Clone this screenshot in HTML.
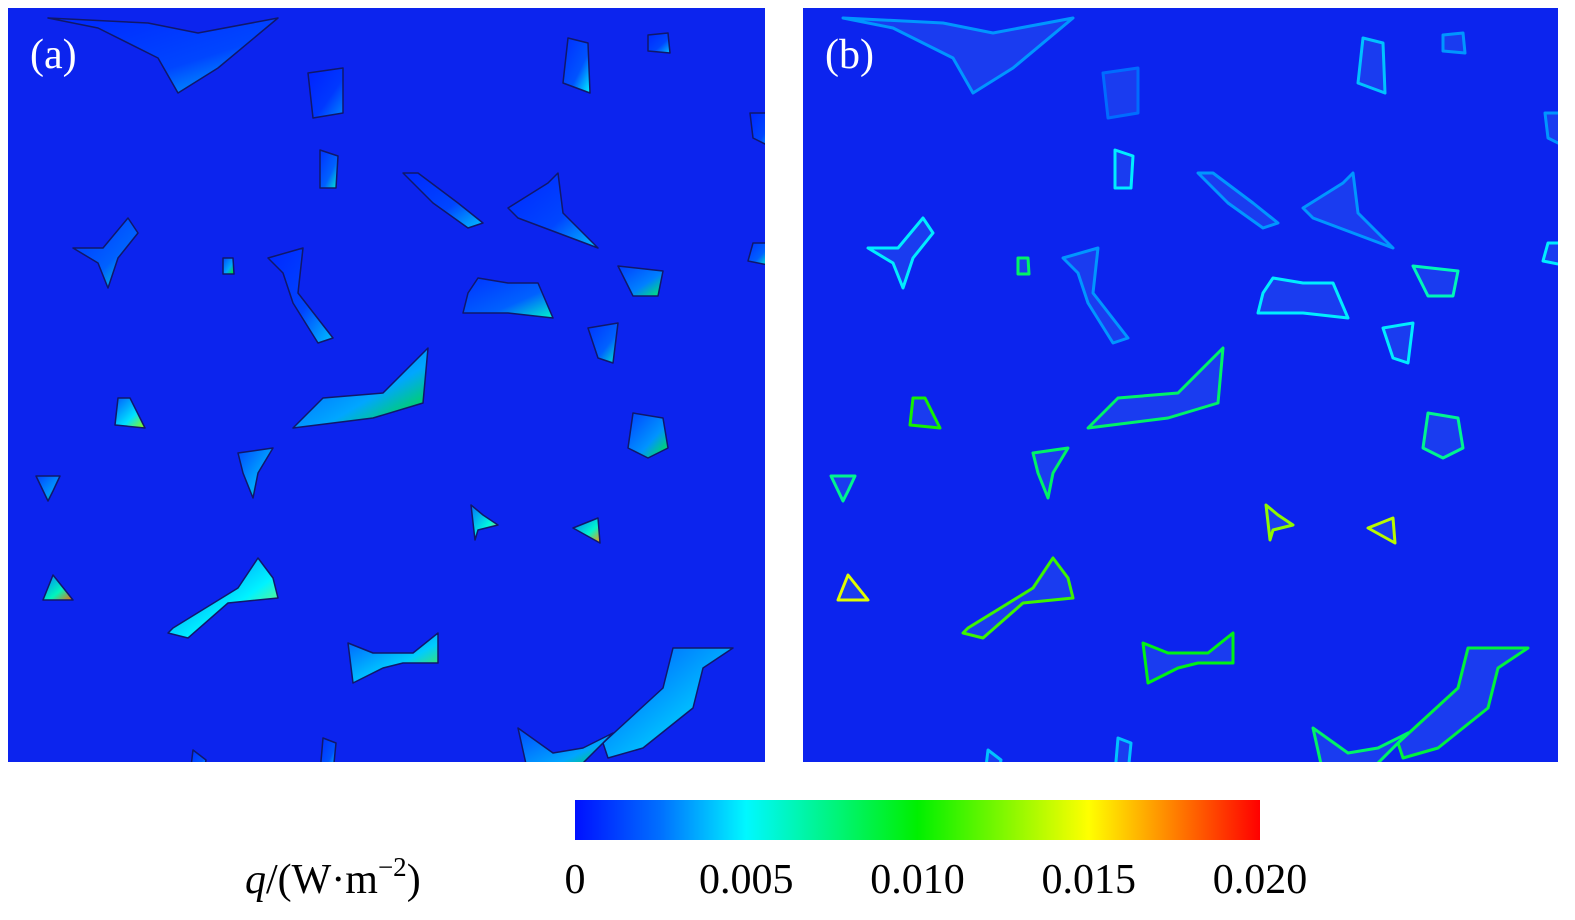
<!DOCTYPE html>
<html><head><meta charset="utf-8"><style>
body{margin:0;background:#fff;width:1575px;height:915px;overflow:hidden;font-family:"Liberation Serif",serif}
</style></head><body>
<svg width="1575" height="915" id="fig">
<defs>
<linearGradient id="cbar" x1="0" x2="1" y1="0" y2="0">
<stop offset="0" stop-color="#0010ff"/><stop offset="0.125" stop-color="#0070ff"/><stop offset="0.25" stop-color="#00f8ff"/><stop offset="0.5" stop-color="#00f000"/><stop offset="0.75" stop-color="#ffff00"/><stop offset="1" stop-color="#ff0000"/>
</linearGradient>
<clipPath id="clipA"><rect x="8" y="8" width="757" height="754"/></clipPath>
<clipPath id="clipB"><rect x="803" y="8" width="755" height="754"/></clipPath>
</defs>
<rect x="8" y="8" width="757" height="754" fill="#0c24ee"/>
<rect x="803" y="8" width="755" height="754" fill="#0c24ee"/>
<g id="ga" clip-path="url(#clipA)"></g>
<g id="gb" clip-path="url(#clipB)"></g>
<text x="30" y="68" font-size="42" fill="#fff">(a)</text>
<text x="825" y="68" font-size="42" fill="#fff">(b)</text>
<rect x="575" y="800" width="685" height="40" fill="url(#cbar)"/>
<text x="245" y="893" font-size="42"><tspan font-style="italic">q</tspan>/(W·m<tspan font-size="27" dy="-17">−2</tspan><tspan dy="17">)</tspan></text>
<g id="ticks"></g>
</svg>
<script>
const tickValues=[0,0.005,0.010,0.015,0.020];
const tickLabels=["0","0.005","0.010","0.015","0.020"];
// blobs: centre (panel-local px), shape points relative, peak flux value
const blobX=[150,320,570,650,750,320,430,540,100,220,290,500,630,750,595,355,122,640,245,40,475,580,50,220,385,655,545,320,190];
const blobY=[60,85,60,35,120,160,190,205,245,258,285,290,268,245,330,385,405,430,460,478,512,520,582,600,650,680,745,745,752];
const blobVal=[0.004,0.003,0.005,0.004,0.004,0.006,0.004,0.004,0.006,0.010,0.004,0.006,0.008,0.006,0.006,0.010,0.013,0.009,0.010,0.009,0.016,0.017,0.018,0.014,0.012,0.011,0.010,0.005,0.005];
const blobShape=[
 "-110,-50 -60,-40 0,-10 20,25 60,0 120,-50 40,-35 -10,-45",
 "-20,-20 15,-25 15,20 -15,25",
 "-10,-30 10,-25 12,25 -15,15",
 "-10,-8 10,-10 12,10 -10,8",
 "-8,-15 15,-15 15,20 -5,10",
 "-8,-18 10,-12 8,20 -8,20",
 "-35,-25 -20,-25 20,5 45,25 30,30 -5,5",
 "-40,-5 0,-30 10,-40 15,0 50,35 10,20 -30,5",
 "-35,-5 -5,-5 20,-35 30,-20 10,5 0,35 -10,10",
 "-5,-8 5,-8 6,8 -5,8",
 "-30,-35 5,-45 0,0 35,45 20,50 -5,10 -15,-20",
 "-40,-5 -30,-20 0,-15 30,-15 45,20 0,15 -45,15",
 "-20,-10 25,-5 20,20 -5,20",
 "-5,-10 10,-10 10,12 -10,8",
 "-15,-10 15,-15 10,25 -5,20",
 "-70,35 -40,5 20,0 65,-45 60,10 10,25",
 "-12,-15 0,-15 15,15 -15,12",
 "-15,-25 15,-20 20,10 0,20 -20,10",
 "-15,-15 20,-20 5,5 0,30 -10,5",
 "-12,-10 12,-10 5,5 0,15",
 "-12,-15 0,-5 15,5 -5,10 -8,20",
 "-15,0 10,-10 12,15",
 "-15,10 -5,-15 15,10",
 "-60,25 -40,30 0,-5 50,-10 45,-30 30,-50 10,-20 -55,20",
 "-45,-15 -20,-5 20,-5 45,-25 45,5 10,5 -10,10 -40,25",
 "-60,55 0,0 10,-40 70,-40 40,-20 30,20 -20,60 -55,70",
 "-35,-25 0,0 30,-5 60,-20 20,20 -25,20",
 "-5,-15 8,-10 5,20 -8,20",
 "-5,-10 8,0 5,15 -8,15"];
function jet(v){const t=Math.max(0,Math.min(1,v/0.02));
 const s=[[0,[0,16,255]],[0.125,[0,112,255]],[0.25,[0,248,255]],[0.5,[0,240,0]],[0.75,[255,255,0]],[1,[255,0,0]]];
 for(let i=1;i<s.length;i++){if(t<=s[i][0]){const a=s[i-1],b=s[i],f=(t-a[0])/(b[0]-a[0]);
 return 'rgb('+a[1].map((c,k)=>Math.round(c+(b[1][k]-c)*f)).join(',')+')';}}return 'rgb(255,0,0)';}
const NS='http://www.w3.org/2000/svg';
const defs=document.querySelector('defs');
function drawPanel(g,ox,oy,hollow,tag){
 blobX.forEach((x,i)=>{
  const id='gr'+tag+i;
  const lg=document.createElementNS(NS,'linearGradient');lg.setAttribute('id',id);
  lg.setAttribute('x1','0');lg.setAttribute('x2','1');lg.setAttribute('y1','0');lg.setAttribute('y2','1');
  lg.innerHTML='<stop offset="0" stop-color="'+jet(blobVal[i]*0.15)+'"/><stop offset="0.6" stop-color="'+jet(blobVal[i]*0.35)+'"/><stop offset="1" stop-color="'+jet(blobVal[i])+'"/>';
  defs.appendChild(lg);
  const pts=blobShape[i].split(' ').map(p=>{const [a,b]=p.split(',').map(Number);return (ox+x+a)+','+(oy+blobY[i]+b);}).join(' ');
  const p=document.createElementNS(NS,'polygon');
  p.setAttribute('points',pts);
  p.setAttribute('fill',hollow?'#1a3cf0':'url(#'+id+')');
  p.setAttribute('stroke',hollow?jet(blobVal[i]*0.8):'#10186a');
  p.setAttribute('stroke-width',hollow?'3':'1.5');
  p.setAttribute('stroke-linejoin','round');
  
  
  g.appendChild(p);
 });
}
drawPanel(document.getElementById('ga'),8,8,false,'a');
drawPanel(document.getElementById('gb'),803,8,true,'b');
const tg=document.getElementById('ticks');
tickValues.forEach((v,i)=>{
 const t=document.createElementNS(NS,'text');
 t.setAttribute('x',575+v/0.02*685);t.setAttribute('y',893);
 t.setAttribute('font-size','42');t.setAttribute('text-anchor','middle');
 t.textContent=tickLabels[i];
 
 
 tg.appendChild(t);
});
</script>
</body></html>
